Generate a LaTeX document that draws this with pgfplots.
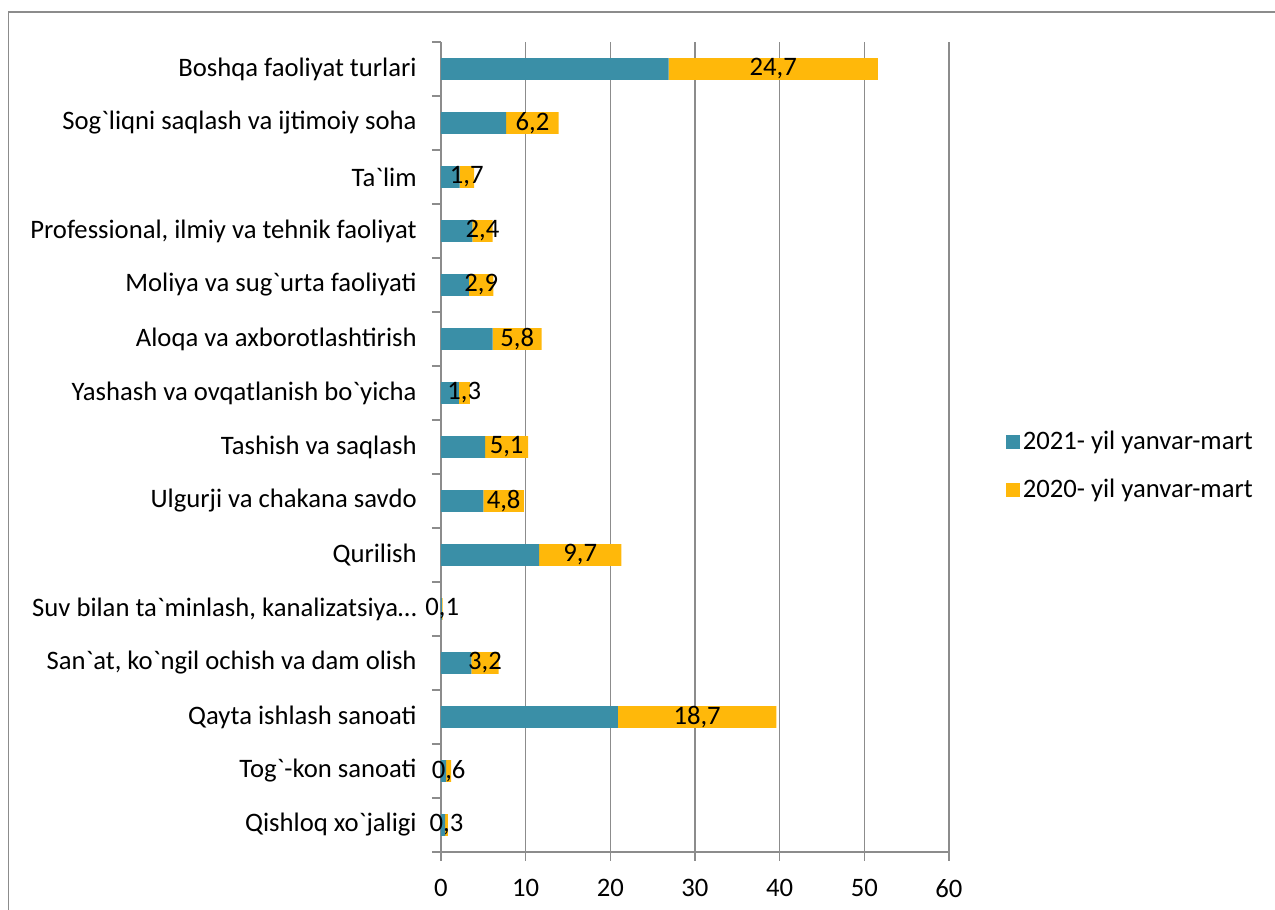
\documentclass[border=0pt]{standalone}
\usepackage{pgfplots}
\pgfplotsset{compat=1.18}
\usepackage{pgfplotstable}
\usepackage{fontspec}
\setmainfont{Carlito}
\definecolor{tealc}{HTML}{3A8FA7}
\definecolor{orangec}{HTML}{FFB80A}
\definecolor{gridgray}{HTML}{8C8C8C}
\newcommand{\g}{\textasciigrave}
\newcommand{\cf}{\fontsize{20pt}{24pt}\selectfont}
\pgfplotstableread{
y t o
0 0.5 0.3
1 0.6 0.6
2 20.9 18.7
3 3.6 3.2
4 0.1 0.1
5 11.6 9.7
6 5.0 4.8
7 5.2 5.1
8 2.1 1.3
9 6.1 5.8
10 3.3 2.9
11 3.7 2.4
12 2.2 1.7
13 7.7 6.2
14 26.9 24.7
}\datatab
\begin{document}
\begin{tikzpicture}
\useasboundingbox (-330.75pt,-43.5pt) rectangle (625.5pt,639pt);
\begin{axis}[
  at={(0pt,0pt)}, anchor=south west,
  scale only axis, width=381pt, height=607.5pt,
  xbar stacked, bar width=16.3pt,
  xmin=0, xmax=60, ymin=-0.5, ymax=14.5,
  xtick={0,10,...,60},
  ytick={0,...,14},
  yticklabels={
    Qishloq xo\g jaligi,
    Tog\g-kon sanoati,
    Qayta ishlash sanoati,
    {San\g at, ko\g ngil ochish va dam olish},
    {Suv bilan ta\g minlash, kanalizatsiya…},
    Qurilish,
    Ulgurji va chakana savdo,
    Tashish va saqlash,
    Yashash va ovqatlanish bo\g yicha,
    Aloqa va axborotlashtirish,
    Moliya va sug\g urta faoliyati,
    {Professional, ilmiy va tehnik faoliyat},
    Ta\g lim,
    Sog\g liqni saqlash va ijtimoiy soha,
    Boshqa faoliyat turlari},
  minor ytick={-0.5,0.5,...,14.5},
  axis x line=bottom, axis y line=left,
  axis line style={draw=gridgray, line width=1pt, -},
  xmajorgrids, grid style={draw=gridgray, line width=0.9pt},
  tick align=outside,
  major tick length=6.75pt, minor tick length=6.75pt,
  x tick style={draw=gridgray, line width=1pt},
  y tick style={draw=gridgray, line width=1pt},
  every major y tick/.append style={draw=none},
  /pgf/number format/assume math mode=true,
  tick label style={font=\cf, text=black},
  yticklabel style={xshift=-8pt},
  xticklabel style={yshift=-10pt},
  legend style={draw=none, fill=none, at={(1.104,0.477)}, anchor=west,
    font=\cf, row sep=16.5pt},
  legend cell align=left,
  legend image code/.code={\fill[#1] (-2.25pt,-5.25pt) rectangle (8.25pt,5.25pt);},
]
\addplot[fill=tealc, draw=none] table[x=t, y=y] {\datatab};
\addlegendentry{2021- yil yanvar-mart}
\addplot[fill=orangec, draw=none,
  point meta=explicit,
  nodes near coords={\pgfmathprintnumber[use comma, fixed, fixed zerofill, precision=1, assume math mode=true]{\pgfplotspointmeta}},
  every node near coord/.append style={font=\cf, text=black, anchor=center},
] table[x=o, y=y, meta=o] {\datatab};
\addlegendentry{2020- yil yanvar-mart}
\end{axis}
\draw[gridgray, line width=1pt] (-324.4pt,-60pt) -- (-324.4pt,630pt) -- (700pt,630pt);
\end{tikzpicture}
\end{document}
